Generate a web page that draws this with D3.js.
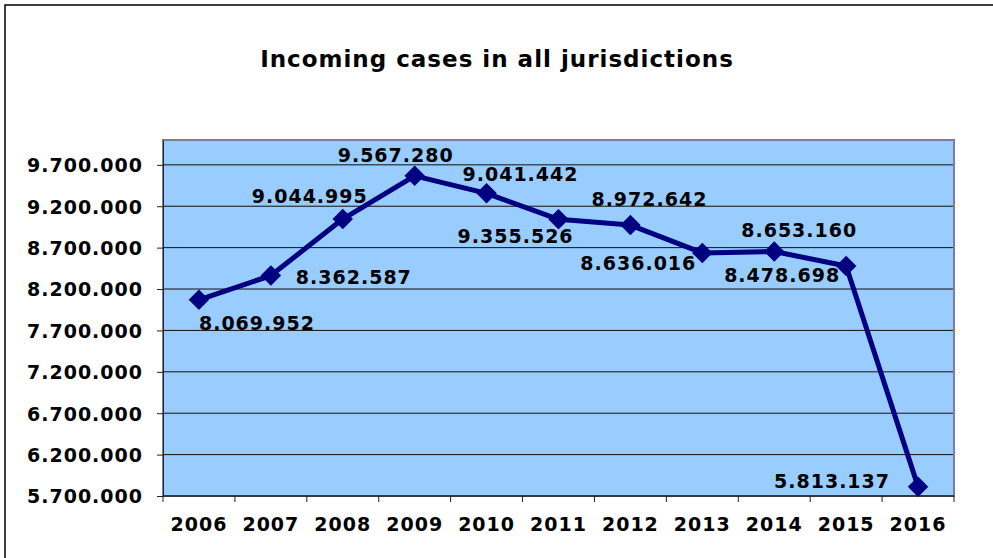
<!DOCTYPE html>
<html>
<head>
<meta charset="utf-8">
<script src="https://cdn.jsdelivr.net/npm/d3@7"></script>
<style>
  body { margin: 0; background: #fff; }
  text { font-family: "DejaVu Sans", Verdana, sans-serif; font-weight: bold; fill: #000; }
</style>
</head>
<body>
<div id="chart"></div>
<script>
// Data
const years = ["2006", "2007", "2008", "2009", "2010", "2011", "2012", "2013", "2014", "2015", "2016"];
const cases = [8069952, 8362587, 9044995, 9567280, 9355526, 9041442, 8972642, 8636016, 8653160, 8478698, 5813137];
const yTicks = [5700000, 6200000, 6700000, 7200000, 7700000, 8200000, 8700000, 9200000, 9700000];

// where each value label sits relative to its point (like Excel placed them)
const labelOffsets = [[58, 30], [83, 8], [-33, -16], [-19, -14], [29, 50], [-38, -38],
                      [19, -19], [-64, 17], [25, -15], [-64, 16], [-86, 1]];

const width = 993, height = 558;
const plot = { left: 163, right: 954, top: 140, bottom: 496 };

const svg = d3.select("#chart").append("svg")
    .attr("width", width)
    .attr("height", height);

// outer chart frame
svg.append("rect")
    .attr("x", 5).attr("y", 5)
    .attr("width", 1100).attr("height", 700)
    .attr("fill", "#fff")
    .attr("stroke", "#000")
    .attr("stroke-width", 1.5);

// title
svg.append("text")
    .attr("x", 497)
    .attr("y", 67)
    .attr("text-anchor", "middle")
    .style("font-size", "23px")
    .style("letter-spacing", "1px")
    .text("Incoming cases in all jurisdictions");

const fmt = v => d3.format(",")(v).replace(/,/g, ".");

const x = d3.scaleBand().domain(years).range([plot.left, plot.right]);
const y = d3.scaleLinear().domain([5700000, 10000000]).range([plot.bottom, plot.top]);

// plot background
svg.append("rect")
    .attr("x", plot.left).attr("y", plot.top)
    .attr("width", plot.right - plot.left)
    .attr("height", plot.bottom - plot.top)
    .attr("fill", "#99ccff");

// gridlines
svg.append("g")
    .selectAll("line")
    .data(yTicks)
    .enter()
    .append("line")
    .attr("x1", plot.left).attr("x2", plot.right)
    .attr("y1", d => y(d)).attr("y2", d => y(d))
    .attr("stroke", "#111")
    .attr("stroke-width", 1);

// plot border
svg.append("rect")
    .attr("x", plot.left).attr("y", plot.top)
    .attr("width", plot.right - plot.left)
    .attr("height", plot.bottom - plot.top)
    .attr("fill", "none")
    .attr("stroke", "#7b7ba6")
    .attr("stroke-width", 2);

// y axis
const yAxis = svg.append("g")
    .attr("transform", `translate(${plot.left},0)`)
    .call(d3.axisLeft(y).tickValues(yTicks).tickFormat(fmt)
        .tickSizeInner(6).tickSizeOuter(0).tickPadding(14));
yAxis.select(".domain").attr("stroke", "#222");
yAxis.selectAll(".tick line").attr("stroke", "#222");
yAxis.selectAll("text")
    .attr("fill", "#000")
    .style("font-size", "19px")
    .style("letter-spacing", "1px")
    .attr("dy", "0.36em");

// x axis: ticks on band edges, labels centred
const xAxis = svg.append("g")
    .attr("transform", `translate(0,${plot.bottom})`);
xAxis.append("line")
    .attr("x1", plot.left).attr("x2", plot.right)
    .attr("stroke", "#222").attr("stroke-width", 1.5);
xAxis.selectAll(".edge")
    .data(years.concat(["end"]))
    .enter()
    .append("line")
    .attr("x1", (d, i) => i < years.length ? x(d) : plot.right)
    .attr("x2", (d, i) => i < years.length ? x(d) : plot.right)
    .attr("y1", 0).attr("y2", 6)
    .attr("stroke", "#222");
xAxis.selectAll("text")
    .data(years)
    .enter()
    .append("text")
    .attr("x", d => x(d) + x.bandwidth() / 2)
    .attr("y", 35)
    .attr("text-anchor", "middle")
    .style("font-size", "19px")
    .style("letter-spacing", "1px")
    .text(d => d);

// series
const points = years.map((yr, i) => ({ year: yr, value: cases[i], off: labelOffsets[i] }));
const px = d => x(d.year) + x.bandwidth() / 2;

svg.append("path")
    .datum(points)
    .attr("fill", "none")
    .attr("stroke", "#000080")
    .attr("stroke-width", 5)
    .attr("stroke-linejoin", "round")
    .attr("d", d3.line().x(px).y(d => y(d.value)));

svg.selectAll(".marker")
    .data(points)
    .enter()
    .append("path")
    .attr("class", "marker")
    .attr("transform", d => `translate(${px(d)},${y(d.value)}) rotate(45)`)
    .attr("d", d3.symbol().type(d3.symbolSquare).size(210))
    .attr("fill", "#000080");

svg.selectAll(".vlabel")
    .data(points)
    .enter()
    .append("text")
    .attr("class", "vlabel")
    .attr("x", d => px(d) + d.off[0])
    .attr("y", d => y(d.value) + d.off[1])
    .attr("text-anchor", "middle")
    .style("font-size", "19px")
    .style("letter-spacing", "1px")
    .text(d => fmt(d.value));
</script>
</body>
</html>
